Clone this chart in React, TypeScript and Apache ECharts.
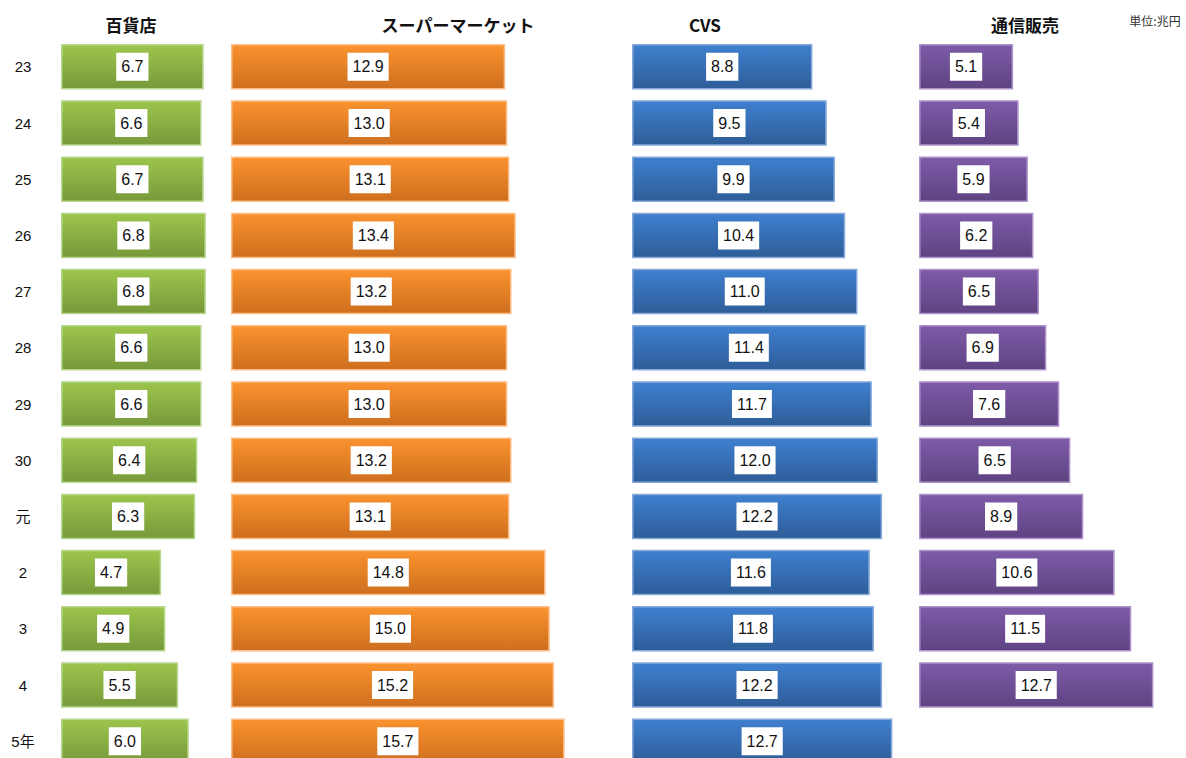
import React, { useEffect, useRef } from "react";
import * as echarts from "echarts";

const categories = ["23", "24", "25", "26", "27", "28", "29", "30", "元", "2", "3", "4", "5年"];
const panelTitles = ["百貨店", "スーパーマーケット", "CVS", "通信販売"];
const unitText = "単位:兆円";

const deptStore = [6.7, 6.6, 6.7, 6.8, 6.8, 6.6, 6.6, 6.4, 6.3, 4.7, 4.9, 5.5, 6.0];
const supermarket = [12.9, 13.0, 13.1, 13.4, 13.2, 13.0, 13.0, 13.2, 13.1, 14.8, 15.0, 15.2, 15.7];
const cvs = [8.8, 9.5, 9.9, 10.4, 11.0, 11.4, 11.7, 12.0, 12.2, 11.6, 11.8, 12.2, 12.7];
// bar lengths as drawn
const mailOrder = [5.1, 5.4, 5.9, 6.2, 6.5, 6.9, 7.6, 8.2, 8.9, 10.6, 11.5, 12.7, null];
// labels as printed
const mailOrderLabels = ["5.1", "5.4", "5.9", "6.2", "6.5", "6.9", "7.6", "6.5", "8.9", "10.6", "11.5", "12.7", ""];

const panels = [
  { data: deptStore, labels: null as null | string[], left: 61, max: 8, width: 170.4, top: "#9DC54C", bottom: "#77993A", border: "#B8D68E", titleX: 131 },
  { data: supermarket, labels: null as null | string[], left: 231, max: 17, width: 361.3, top: "#FA932F", bottom: "#CE6E1E", border: "#FBBE88", titleX: 458 },
  { data: cvs, labels: null as null | string[], left: 632, max: 14, width: 287, top: "#3F80CF", bottom: "#2E5D98", border: "#86A9DA", titleX: 705 },
  { data: mailOrder, labels: mailOrderLabels, left: 919, max: 14, width: 258.4, top: "#7E5BA8", bottom: "#5E4382", border: "#AE93CB", titleX: 1025 },
];

export default function App() {
  const ref = useRef<HTMLDivElement>(null);
  useEffect(() => {
    if (!ref.current) return;
    const chart = echarts.init(ref.current, null, { renderer: "svg" });
    const gridTop = 38.7;
    const gridHeight = 730.6;
    const option: any = {
      animation: false,
      backgroundColor: "#ffffff",
      grid: panels.map((p) => ({ left: p.left, top: gridTop, width: p.width, height: gridHeight, containLabel: false })),
      xAxis: panels.map((p, i) => ({
        type: "value",
        gridIndex: i,
        min: 0,
        max: p.max,
        show: false,
        splitLine: { show: false },
      })),
      yAxis: panels.map((p, i) => ({
        type: "category",
        gridIndex: i,
        data: categories,
        inverse: true,
        axisLine: { show: false },
        axisTick: { show: false },
        splitLine: { show: false },
        axisLabel: {
          show: i === 0,
          margin: 38,
          align: "center",
          fontSize: 15,
          color: "#111",
          fontFamily: "'Liberation Sans', 'Noto Sans CJK JP', sans-serif",
        },
      })),
      series: panels.map((p, i) => ({
        type: "bar",
        xAxisIndex: i,
        yAxisIndex: i,
        data: p.data,
        barWidth: 45.5,
        itemStyle: {
          color: new echarts.graphic.LinearGradient(0, 0, 0, 1, [
            { offset: 0, color: p.top },
            { offset: 1, color: p.bottom },
          ]),
          borderColor: p.border,
          borderWidth: 1.5,
        },
        label: {
          show: true,
          position: "inside",
          backgroundColor: "#ffffff",
          padding: [7, 5, 5, 5],
          color: "#111",
          fontSize: 16,
          lineHeight: 16,
          fontFamily: "'Liberation Sans', Arial, sans-serif",
          formatter: (prm: any) => {
            if (p.labels) return p.labels[prm.dataIndex];
            return prm.value == null ? "" : Number(prm.value).toFixed(1);
          },
        },
      })),
      graphic: [
        ...panels.map((p, i) => ({
          type: "text",
          x: p.titleX,
          y: 24,
          style: {
            text: panelTitles[i],
            fontSize: 17,
            fontWeight: "bold",
            fill: "#111",
            align: "center",
            verticalAlign: "middle",
            fontFamily: "'Noto Sans CJK JP', sans-serif",
          },
        })),
        {
          type: "text",
          x: 1155,
          y: 20,
          style: {
            text: unitText,
            fontSize: 12,
            fill: "#333",
            align: "center",
            verticalAlign: "middle",
            fontFamily: "'Noto Sans CJK JP', sans-serif",
          },
        },
      ],
    };
    chart.setOption(option);
    return () => chart.dispose();
  }, []);
  return (
    <div style={{ position: "fixed", left: 0, top: 0, width: 1186, height: 758, overflow: "hidden" }}>
      <div ref={ref} style={{ width: 1186, height: 790 }} />
    </div>
  );
}
